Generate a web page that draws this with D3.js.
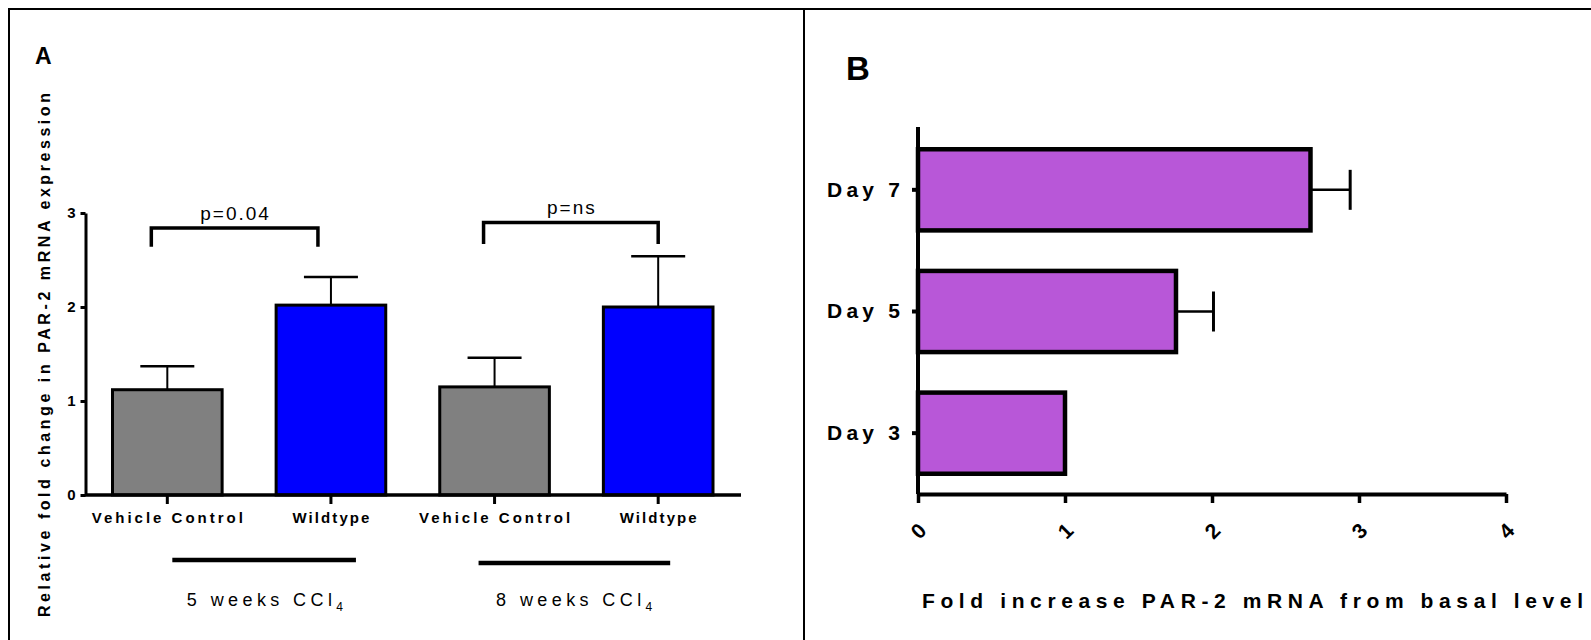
<!DOCTYPE html>
<html>
<head>
<meta charset="utf-8">
<script src="https://cdn.jsdelivr.net/npm/d3@7"></script>
<style>
  body { margin: 0; background: #fff; }
  svg { display: block; font-family: "Liberation Sans", Arial, sans-serif; }
</style>
</head>
<body>
<svg id="chart" width="1591" height="640"></svg>
<script>
// panel A data
var groupsA = ["Vehicle Control", "Wildtype", "Vehicle Control", "Wildtype"];
var meansA = [1.12, 2.02, 1.15, 2.0];
var errA = [0.25, 0.30, 0.31, 0.54];
var colorsA = ["#808080", "#0000ff", "#808080", "#0000ff"];
var ticksA = [0, 1, 2, 3];
var compareA = [
    { a: 0, b: 1, label: "p=0.04", top: 2.84, leg: 2.64 },
    { a: 2, b: 3, label: "p=ns", top: 2.9, leg: 2.67 }
];
var weeksA = ["5 weeks CCl", "8 weeks CCl"];

// panel B data
var daysB = ["Day 7", "Day 5", "Day 3"];
var meansB = [2.67, 1.755, 1.0];
var errB = [0.27, 0.255, 0];
var ticksB = [0, 1, 2, 3, 4];

var svg = d3.select("#chart");

// frame
svg.append("path")
    .attr("d", "M9,640V9H1591M804,9V640")
    .attr("fill", "none").attr("stroke", "#000").attr("stroke-width", 2);

// ---------- panel A ----------
var xA = d3.scaleBand().domain(d3.range(groupsA.length))
    .range([85.5, 740]).paddingInner(0.33).paddingOuter(0.165);
var yA = d3.scaleLinear().domain([0, 3]).range([495, 213]);

var gA = svg.append("g");

gA.append("text").attr("x", 35).attr("y", 64)
    .attr("font-size", 23).attr("font-weight", "bold").text("A");

gA.selectAll(".err").data(meansA).enter().append("g").each(function (d, i) {
    var cx = xA(i) + xA.bandwidth() / 2;
    var g = d3.select(this);
    g.append("line").attr("x1", cx).attr("x2", cx)
        .attr("y1", yA(d)).attr("y2", yA(d + errA[i]))
        .attr("stroke", "#000").attr("stroke-width", 2);
    g.append("line").attr("x1", cx - 27).attr("x2", cx + 27)
        .attr("y1", yA(d + errA[i])).attr("y2", yA(d + errA[i]))
        .attr("stroke", "#000").attr("stroke-width", 2.5);
});

gA.selectAll(".bar").data(meansA).enter().append("rect")
    .attr("x", (d, i) => xA(i))
    .attr("y", d => yA(d))
    .attr("width", xA.bandwidth())
    .attr("height", d => yA(0) - yA(d))
    .attr("fill", (d, i) => colorsA[i])
    .attr("stroke", "#000").attr("stroke-width", 3);

var axA = gA.append("g").attr("transform", "translate(0,495)")
    .call(d3.axisBottom(xA).tickSize(9).tickSizeOuter(0).tickFormat(i => groupsA[i]));
axA.select(".domain").attr("stroke-width", 3.5).attr("d", "M85,0H741");
axA.selectAll(".tick line").attr("stroke-width", 3);
axA.selectAll(".tick text").attr("y", 17)
    .style("font-size", "15px").style("font-weight", "bold")
    .style("font-family", "'Liberation Sans', Arial, sans-serif").attr("fill", "#000")
    .attr("textLength", i => i % 2 ? 77 : 151).attr("lengthAdjust", "spacing");

var ayA = gA.append("g").attr("transform", "translate(85.5,0)")
    .call(d3.axisLeft(yA).tickValues(ticksA).tickSize(5).tickSizeOuter(0).tickFormat(d3.format("d")));
ayA.select(".domain").attr("stroke-width", 3);
ayA.selectAll(".tick line").attr("stroke-width", 3);
ayA.selectAll(".tick text").attr("x", -10)
    .style("font-family", "'Liberation Sans', Arial, sans-serif")
    .style("font-size", "15px").style("font-weight", "bold").attr("fill", "#000");

// significance brackets
compareA.forEach(function (c, k) {
    var x1 = xA(c.a) + xA.bandwidth() / 2 - (k === 0 ? 16 : 11);
    var x2 = xA(c.b) + xA.bandwidth() / 2 - (k === 0 ? 13 : 0);
    gA.append("path")
        .attr("d", "M" + x1 + "," + yA(c.leg) + "V" + yA(c.top) + "H" + x2 + "V" + yA(c.leg))
        .attr("fill", "none").attr("stroke", "#000").attr("stroke-width", 3.5);
    gA.append("text")
        .attr("x", (x1 + x2) / 2 + 1).attr("y", yA(c.top) - 8)
        .attr("text-anchor", "middle").attr("font-size", 19).attr("letter-spacing", 2)
        .text(c.label);
});

// week groups
weeksA.forEach(function (w, k) {
    var lx1 = xA(2 * k) + xA.bandwidth() / 2 + (k === 0 ? 5 : -16);
    var lx2 = xA(2 * k + 1) + xA.bandwidth() / 2 + (k === 0 ? 25 : 12);
    var ly = k === 0 ? 560 : 563;
    gA.append("line").attr("x1", lx1).attr("x2", lx2).attr("y1", ly).attr("y2", ly)
        .attr("stroke", "#000").attr("stroke-width", 4.5);
    var t = gA.append("text").attr("x", (lx1 + lx2) / 2 + (k === 0 ? 3 : 2)).attr("y", 606)
        .attr("text-anchor", "middle").attr("font-size", 18).attr("letter-spacing", 4.4);
    t.append("tspan").text(w);
    t.append("tspan").attr("font-size", 12).attr("dy", 5).text("4");
});

gA.append("text")
    .attr("transform", "translate(50,355) rotate(-90)")
    .attr("text-anchor", "middle").attr("font-size", 16).attr("font-weight", "bold")
    .attr("textLength", 524).attr("lengthAdjust", "spacing")
    .text("Relative fold change in PAR-2 mRNA expression");

// ---------- panel B ----------
var xB = d3.scaleLinear().domain([0, 4]).range([918, 1506]);
var yB = d3.scaleBand().domain(daysB).range([129, 494]).paddingInner(0.333).paddingOuter(0.1665);

var gB = svg.append("g");

gB.append("text").attr("x", 846).attr("y", 80)
    .attr("font-size", 33).attr("font-weight", "bold").text("B");

gB.selectAll(".errB").data(meansB).enter().append("g").each(function (d, i) {
    if (!errB[i]) return;
    var cy = yB(daysB[i]) + yB.bandwidth() / 2;
    var g = d3.select(this);
    g.append("line").attr("x1", xB(d)).attr("x2", xB(d + errB[i]))
        .attr("y1", cy).attr("y2", cy)
        .attr("stroke", "#000").attr("stroke-width", 2.5);
    g.append("line").attr("x1", xB(d + errB[i])).attr("x2", xB(d + errB[i]))
        .attr("y1", cy - 20).attr("y2", cy + 20)
        .attr("stroke", "#000").attr("stroke-width", 3);
});

gB.selectAll(".barB").data(meansB).enter().append("rect")
    .attr("x", xB(0))
    .attr("y", (d, i) => yB(daysB[i]))
    .attr("width", d => xB(d) - xB(0))
    .attr("height", yB.bandwidth())
    .attr("fill", "#b857d8")
    .attr("stroke", "#000").attr("stroke-width", 4.5);

var axB = gB.append("g").attr("transform", "translate(0,494)")
    .call(d3.axisBottom(xB).tickValues(ticksB).tickSize(9).tickSizeOuter(0).tickFormat(d3.format("d")));
axB.select(".domain").attr("stroke-width", 4);
axB.selectAll(".tick line").attr("stroke-width", 3.5);
axB.selectAll(".tick text")
    .attr("y", 0).attr("dy", "0.35em")
    .attr("transform", "translate(0,37) rotate(-45)")
    .attr("text-anchor", "middle")
    .style("font-size", "21px").style("font-weight", "bold")
    .style("font-family", "'Liberation Sans', Arial, sans-serif").attr("fill", "#000");

var ayB = gB.append("g").attr("transform", "translate(918,0)")
    .call(d3.axisLeft(yB).tickSize(6).tickSizeOuter(0));
ayB.select(".domain").attr("stroke-width", 4).attr("d", "M0,127V494");
ayB.selectAll(".tick line").attr("stroke-width", 4);
ayB.selectAll(".tick text").attr("x", -18)
    .style("font-size", "21px").style("font-weight", "bold")
    .style("font-family", "'Liberation Sans', Arial, sans-serif")
    .attr("textLength", 73).attr("lengthAdjust", "spacing").attr("fill", "#000");

gB.append("text")
    .attr("x", 922).attr("y", 608)
    .attr("font-size", 21).attr("font-weight", "bold")
    .attr("textLength", 661).attr("lengthAdjust", "spacing")
    .text("Fold increase PAR-2 mRNA from basal level");
</script>
</body>
</html>
